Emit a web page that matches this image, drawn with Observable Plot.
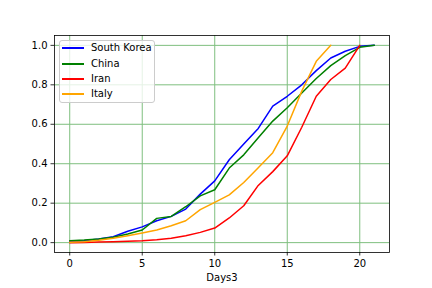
<!DOCTYPE html>
<html>
<head>
<meta charset="utf-8">
<script src="https://cdn.jsdelivr.net/npm/d3@7"></script>
<script src="https://cdn.jsdelivr.net/npm/@observablehq/plot@0.6"></script>
<style>
  html, body { margin: 0; padding: 0; background: white; }
  #wrap { position: relative; width: 432px; height: 288px; font-family: "DejaVu Sans", sans-serif; }
  #legend { position: absolute; left: 59px; top: 40px; width: 96px; height: 63px;
    border: 1px solid #cccccc; border-radius: 3px; background: rgba(255,255,255,0.8);
    font-size: 10px; color: #000000; box-sizing: border-box; }
  .sw { position: absolute; left: 2px; width: 22px; height: 2px; }
  .lb { position: absolute; left: 31px; white-space: nowrap; color: #000000; line-height: 12px; }
</style>
</head>
<body>
<div id="wrap"></div>
<script>
const seriesNames = ["South Korea", "China", "Iran", "Italy"];
const seriesColors = ["blue", "green", "red", "orange"];
const southKorea = [0.005, 0.01, 0.018, 0.03, 0.058, 0.08, 0.111, 0.133, 0.17, 0.246, 0.313, 0.42, 0.50, 0.579, 0.692, 0.742, 0.80, 0.872, 0.936, 0.97, 0.995, 1.0];
const china = [0.01, 0.013, 0.019, 0.027, 0.044, 0.064, 0.123, 0.133, 0.182, 0.237, 0.268, 0.378, 0.445, 0.532, 0.616, 0.684, 0.759, 0.832, 0.897, 0.948, 0.99, 1.0];
const iran = [0, 0.001, 0.003, 0.005, 0.007, 0.01, 0.015, 0.022, 0.035, 0.052, 0.074, 0.125, 0.187, 0.29, 0.36, 0.44, 0.585, 0.742, 0.827, 0.885, 1.0];
const italy = [0.002, 0.005, 0.012, 0.022, 0.035, 0.049, 0.064, 0.086, 0.111, 0.167, 0.204, 0.242, 0.305, 0.38, 0.456, 0.591, 0.768, 0.919, 1.0];
const xTicks = [0, 5, 10, 15, 20];
const yTicks = [0, 0.2, 0.4, 0.6, 0.8, 1.0];
const xLabel = "Days3";

const allSeries = [southKorea, china, iran, italy];
const rows = [];
allSeries.forEach((vals, i) => vals.forEach((v, d) => rows.push({series: seriesNames[i], day: d, value: v})));

const gridColor = "#7fbf7f";
const chart = Plot.plot({
  width: 432, height: 288,
  marginLeft: 54, marginRight: 43, marginTop: 35, marginBottom: 36,
  style: {fontFamily: "DejaVu Sans", fontSize: "10px", background: "white", color: "black"},
  x: {domain: [-1.05, 22.05]},
  y: {domain: [-0.05, 1.05]},
  marks: [
    Plot.gridX(xTicks, {stroke: gridColor, strokeOpacity: 1, strokeWidth: 1}),
    Plot.gridY(yTicks, {stroke: gridColor, strokeOpacity: 1, strokeWidth: 1}),
    ...seriesNames.map((name, i) => Plot.lineY(rows.filter(r => r.series === name), {x: "day", y: "value", stroke: seriesColors[i], strokeWidth: 1.5})),
    Plot.frame({stroke: "black", strokeWidth: 0.8}),
    Plot.axisX(xTicks, {tickSize: 3.5, tickPadding: 3.5, label: null, fontSize: 10, strokeWidth: 0.8}),
    Plot.axisY(yTicks, {tickSize: 3.5, tickPadding: 3.5, label: null, fontSize: 10, strokeWidth: 0.8, tickFormat: d => d.toFixed(1)}),
    Plot.text([xLabel], {frameAnchor: "bottom", dy: 25, lineAnchor: "middle", fontSize: 10, fill: "black"})
  ]
});
const wrap = document.getElementById("wrap");
wrap.appendChild(chart);

const legend = document.createElement("div");
legend.id = "legend";
const rowTops = [6, 22, 37, 52];
seriesNames.forEach((name, i) => {
  const sw = document.createElement("div");
  sw.className = "sw";
  sw.style.background = seriesColors[i];
  sw.style.top = rowTops[i] + "px";
  const lb = document.createElement("div");
  lb.className = "lb";
  lb.textContent = name;
  lb.style.top = (rowTops[i] - 5) + "px";
  legend.appendChild(sw); legend.appendChild(lb);
});
wrap.appendChild(legend);
</script>
</body>
</html>
